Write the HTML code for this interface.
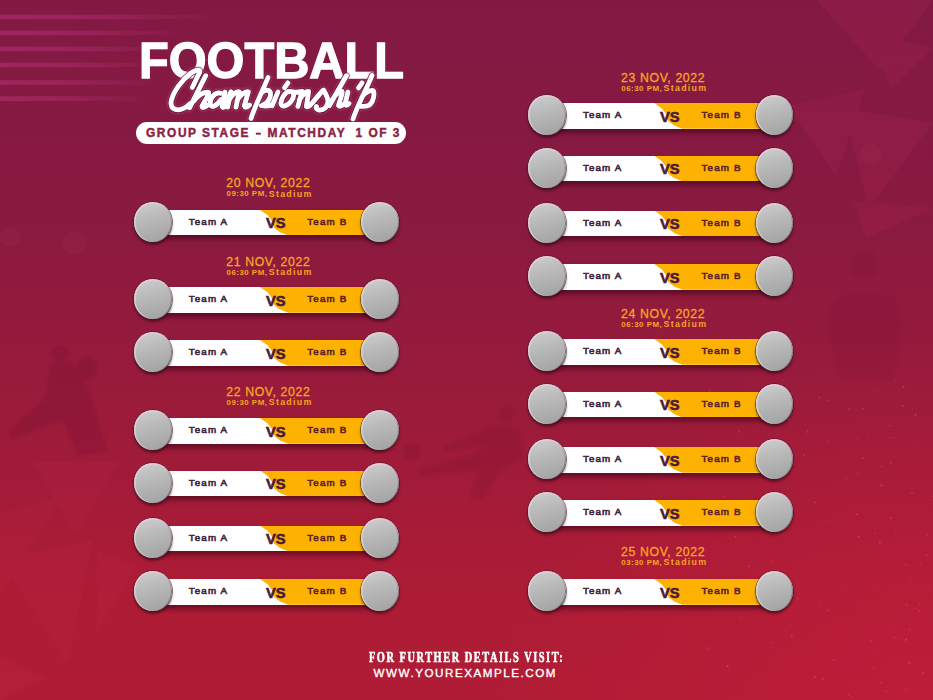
<!DOCTYPE html>
<html><head><meta charset="utf-8">
<style>
*{margin:0;padding:0;box-sizing:border-box}
html,body{width:933px;height:700px;overflow:hidden}
body{position:relative;font-family:"Liberation Sans",sans-serif;
background:linear-gradient(180deg,#821944 0%,#891a40 30%,#9c1b3a 60%,#ad1c35 85%,#b11c35 100%)}
.bg,.scr{position:absolute;left:0;top:0}
.m{position:absolute;width:268px;height:40px}
.m b{position:absolute;font-weight:bold;white-space:nowrap}
.bar{position:absolute;left:20px;top:8.1px;width:227.2px;height:25.6px;background:linear-gradient(90deg,#e6e2e4 0,#fff 9%,#fff 100%);
box-shadow:0 4px 5px rgba(50,0,20,.55)}
.bar i{position:absolute;left:0;top:0;width:100%;height:100%;
background:#fdb100;clip-path:polygon(107px 0,100% 0,100% 100%,135.3px 100%,127px 22.3px,121px 17.8px,118.5px 10.3px,114.5px 5.2px)}
.c{position:absolute;top:0;width:37.5px;height:40px;border-radius:50%;
background:linear-gradient(165deg,#d0d0d0 0%,#bababa 40%,#ababab 75%,#a0a0a0 100%);
box-shadow:inset 0 1.5px 1px rgba(255,200,225,.65),inset 1.5px 0 1px rgba(235,240,240,.5),inset -1px 0 0.6px rgba(60,55,60,.45),0 0 0 .8px rgba(60,35,45,.7),0 2.5px 3px rgba(40,0,15,.6)}
.c1{left:1.25px} .c2{left:228.45px}
.ta,.tb{font-size:9.8px;line-height:9.8px;letter-spacing:1.15px;font-weight:normal!important}
.ta{color:#40243a;-webkit-text-stroke:0.6px #40243a} .tb{color:#5e2229;-webkit-text-stroke:0.6px #5e2229}
.ta{left:55.7px} .tb{left:174.3px}
.vs{left:132.9px;font-size:14.7px;line-height:14.7px;color:#4a1a3c;-webkit-text-stroke:0.6px #4a1a3c}
.d1,.d2,.d3{position:absolute;color:#f6a523;white-space:nowrap}
.d1{font-size:12.3px;line-height:12.3px;letter-spacing:0.62px;-webkit-text-stroke:0.3px #f6a523}
.d2{font-size:7.9px;line-height:7.9px;font-weight:bold;letter-spacing:0.5px}
.d3{font-size:8.9px;line-height:8.9px;font-weight:bold;letter-spacing:1.25px}
.tm{font-size:7.5px}
.title{position:absolute;left:139px;top:35.51px;font-size:50.5px;line-height:50.5px;font-weight:bold;color:#fff;-webkit-text-stroke:1.3px #fff;white-space:nowrap;transform-origin:0 0;transform:scaleX(0.964)}
.pill em{font-style:normal;display:inline-block;transform:scaleX(.8)}
.pill{position:absolute;left:136px;top:122px;width:270px;height:21.5px;border-radius:11px;background:#fff}
.pill span{position:absolute;left:10px;top:6.15px;font-size:11.9px;line-height:11.9px;font-weight:bold;color:#8a2246;-webkit-text-stroke:0.45px #8a2246;white-space:nowrap;letter-spacing:1.6px;word-spacing:-0.3px}
.f1{position:absolute;left:368.8px;top:649.80px;font-family:"Liberation Serif",serif;font-weight:bold;font-size:14.8px;line-height:14.8px;color:#fff;-webkit-text-stroke:0.6px #fff;white-space:nowrap;letter-spacing:2.2px;transform-origin:0 0;transform:scaleX(0.7)}
.f2{position:absolute;left:373.6px;top:666.79px;font-size:11.6px;line-height:11.6px;color:#fff;-webkit-text-stroke:0.35px #fff;white-space:nowrap;letter-spacing:1.55px}
</style></head><body>
<svg class="bg" width="933" height="700" viewBox="0 0 933 700">
<defs>
<linearGradient id="sg" x1="0" x2="1" y1="0" y2="0"><stop offset="0" stop-color="#b03070" stop-opacity=".6"/><stop offset=".45" stop-color="#b03070" stop-opacity=".45"/><stop offset="1" stop-color="#b03070" stop-opacity="0"/></linearGradient>
<filter id="sb" x="-5%" y="-100%" width="110%" height="300%"><feGaussianBlur stdDeviation="0.7"/></filter>
<filter id="bl"><feGaussianBlur stdDeviation="1.5"/></filter>
<filter id="bl2"><feGaussianBlur stdDeviation="6"/></filter>
<radialGradient id="br" cx="1" cy="1" r="0.9"><stop offset="0" stop-color="#c81e3c" stop-opacity=".55"/><stop offset="1" stop-color="#c81e3c" stop-opacity="0"/></radialGradient>
</defs>
<rect x="450" y="300" width="483" height="400" fill="url(#br)"/>
<rect x="0" y="14.7" width="230" height="4.6" fill="url(#sg)" filter="url(#sb)"/><rect x="0" y="30.7" width="190" height="4.6" fill="url(#sg)" filter="url(#sb)"/><rect x="0" y="46.7" width="180" height="4.6" fill="url(#sg)" filter="url(#sb)"/><rect x="0" y="62.7" width="175" height="4.6" fill="url(#sg)" filter="url(#sb)"/><rect x="0" y="80.2" width="165" height="4.6" fill="url(#sg)" filter="url(#sb)"/><rect x="0" y="96.3" width="150" height="4.6" fill="url(#sg)" filter="url(#sb)"/><g fill="#ff5a7a"><circle cx="713.5" cy="542.4" r="0.76" opacity="0.17"/><circle cx="920.8" cy="564.7" r="1.09" opacity="0.16"/><circle cx="900.0" cy="472.7" r="0.57" opacity="0.24"/><circle cx="890.2" cy="437.8" r="0.88" opacity="0.26"/><circle cx="827.6" cy="400.1" r="0.62" opacity="0.35"/><circle cx="862.9" cy="458.1" r="0.82" opacity="0.41"/><circle cx="735.4" cy="536.5" r="0.90" opacity="0.38"/><circle cx="833.5" cy="660.2" r="0.92" opacity="0.33"/><circle cx="920.1" cy="531.7" r="0.54" opacity="0.36"/><circle cx="903.0" cy="405.8" r="0.83" opacity="0.42"/><circle cx="890.9" cy="656.5" r="0.75" opacity="0.26"/><circle cx="906.0" cy="686.5" r="0.61" opacity="0.22"/><circle cx="860.9" cy="545.0" r="0.91" opacity="0.17"/><circle cx="909.6" cy="629.6" r="0.98" opacity="0.27"/><circle cx="737.8" cy="488.8" r="0.50" opacity="0.20"/><circle cx="723.6" cy="496.4" r="1.02" opacity="0.33"/><circle cx="931.4" cy="529.1" r="0.55" opacity="0.18"/><circle cx="823.1" cy="426.9" r="0.52" opacity="0.31"/><circle cx="928.0" cy="656.3" r="0.66" opacity="0.26"/><circle cx="881.5" cy="485.5" r="0.99" opacity="0.45"/><circle cx="898.7" cy="637.9" r="0.94" opacity="0.22"/><circle cx="820.6" cy="493.8" r="0.52" opacity="0.23"/><circle cx="922.5" cy="496.7" r="0.64" opacity="0.21"/><circle cx="895.8" cy="533.4" r="0.98" opacity="0.18"/><circle cx="874.8" cy="533.0" r="0.97" opacity="0.25"/><circle cx="886.6" cy="690.9" r="0.74" opacity="0.43"/><circle cx="868.9" cy="434.4" r="0.59" opacity="0.42"/><circle cx="928.4" cy="590.3" r="0.83" opacity="0.19"/><circle cx="822.7" cy="678.8" r="1.02" opacity="0.40"/><circle cx="756.0" cy="567.7" r="0.75" opacity="0.19"/><circle cx="912.0" cy="493.2" r="0.85" opacity="0.42"/><circle cx="823.9" cy="547.5" r="0.76" opacity="0.20"/><circle cx="882.7" cy="414.0" r="0.65" opacity="0.23"/><circle cx="879.9" cy="542.5" r="0.96" opacity="0.42"/><circle cx="819.3" cy="601.7" r="0.82" opacity="0.29"/><circle cx="919.4" cy="603.7" r="1.07" opacity="0.23"/><circle cx="716.9" cy="457.0" r="0.90" opacity="0.39"/><circle cx="909.0" cy="429.4" r="0.90" opacity="0.19"/><circle cx="905.7" cy="689.6" r="1.07" opacity="0.27"/><circle cx="779.0" cy="442.6" r="0.93" opacity="0.16"/><circle cx="829.1" cy="520.9" r="0.70" opacity="0.34"/><circle cx="883.7" cy="690.9" r="0.66" opacity="0.16"/><circle cx="881.5" cy="466.5" r="0.75" opacity="0.42"/><circle cx="890.8" cy="462.8" r="1.05" opacity="0.32"/><circle cx="863.2" cy="408.6" r="0.91" opacity="0.28"/><circle cx="755.6" cy="415.0" r="0.53" opacity="0.21"/><circle cx="767.6" cy="540.0" r="0.71" opacity="0.16"/><circle cx="828.4" cy="440.6" r="1.06" opacity="0.18"/><circle cx="890.8" cy="518.3" r="1.00" opacity="0.27"/><circle cx="848.2" cy="509.5" r="0.53" opacity="0.19"/><circle cx="902.8" cy="594.6" r="0.65" opacity="0.24"/><circle cx="807.1" cy="430.4" r="0.66" opacity="0.44"/><circle cx="926.6" cy="555.1" r="1.08" opacity="0.24"/><circle cx="783.1" cy="380.3" r="0.78" opacity="0.30"/><circle cx="746.8" cy="541.5" r="0.66" opacity="0.18"/><circle cx="793.1" cy="393.3" r="0.68" opacity="0.22"/><circle cx="894.5" cy="637.5" r="0.85" opacity="0.42"/><circle cx="859.1" cy="601.9" r="0.52" opacity="0.19"/><circle cx="858.6" cy="536.6" r="0.98" opacity="0.37"/><circle cx="815.1" cy="502.4" r="0.91" opacity="0.38"/><circle cx="843.8" cy="585.7" r="0.59" opacity="0.23"/><circle cx="873.2" cy="477.4" r="0.51" opacity="0.17"/><circle cx="857.4" cy="473.1" r="0.78" opacity="0.29"/><circle cx="727.6" cy="666.0" r="1.09" opacity="0.43"/><circle cx="925.6" cy="523.8" r="0.63" opacity="0.43"/><circle cx="749.1" cy="566.1" r="0.81" opacity="0.44"/><circle cx="906.6" cy="605.1" r="1.04" opacity="0.30"/><circle cx="805.0" cy="476.6" r="0.71" opacity="0.24"/><circle cx="895.8" cy="380.6" r="1.00" opacity="0.19"/><circle cx="915.9" cy="608.2" r="0.67" opacity="0.26"/><circle cx="784.0" cy="517.0" r="0.53" opacity="0.18"/><circle cx="906.0" cy="639.8" r="1.05" opacity="0.43"/><circle cx="828.0" cy="610.3" r="0.94" opacity="0.29"/><circle cx="875.4" cy="586.2" r="0.53" opacity="0.43"/><circle cx="760.6" cy="589.9" r="0.83" opacity="0.27"/><circle cx="739.0" cy="431.7" r="1.04" opacity="0.30"/><circle cx="804.8" cy="424.7" r="0.55" opacity="0.25"/><circle cx="787.8" cy="488.2" r="0.67" opacity="0.44"/><circle cx="901.0" cy="449.1" r="0.65" opacity="0.27"/><circle cx="903.4" cy="387.0" r="0.93" opacity="0.42"/><circle cx="810.3" cy="567.9" r="0.73" opacity="0.43"/><circle cx="757.9" cy="414.9" r="0.81" opacity="0.35"/><circle cx="919.4" cy="611.0" r="0.96" opacity="0.29"/><circle cx="770.8" cy="420.9" r="0.88" opacity="0.36"/><circle cx="835.8" cy="504.2" r="0.86" opacity="0.15"/><circle cx="850.2" cy="662.8" r="0.64" opacity="0.22"/><circle cx="923.8" cy="605.5" r="0.51" opacity="0.30"/><circle cx="857.1" cy="514.4" r="0.90" opacity="0.43"/><circle cx="798.0" cy="598.4" r="0.98" opacity="0.37"/><circle cx="772.6" cy="642.4" r="0.63" opacity="0.38"/><circle cx="855.0" cy="683.6" r="0.74" opacity="0.21"/><circle cx="927.0" cy="425.4" r="0.54" opacity="0.27"/><circle cx="909.3" cy="662.7" r="1.10" opacity="0.43"/><circle cx="873.9" cy="390.2" r="0.73" opacity="0.26"/><circle cx="777.3" cy="434.2" r="0.67" opacity="0.26"/><circle cx="891.5" cy="518.4" r="0.78" opacity="0.26"/><circle cx="914.2" cy="441.8" r="1.04" opacity="0.16"/><circle cx="709.5" cy="391.2" r="1.05" opacity="0.23"/><circle cx="874.1" cy="667.5" r="0.66" opacity="0.44"/><circle cx="773.7" cy="468.2" r="0.95" opacity="0.42"/><circle cx="847.7" cy="681.8" r="0.64" opacity="0.29"/><circle cx="922.9" cy="685.3" r="0.65" opacity="0.28"/><circle cx="815.0" cy="677.0" r="0.98" opacity="0.37"/><circle cx="891.7" cy="627.3" r="0.70" opacity="0.25"/><circle cx="784.3" cy="630.3" r="0.62" opacity="0.38"/><circle cx="757.6" cy="400.7" r="0.83" opacity="0.25"/><circle cx="761.7" cy="406.9" r="0.80" opacity="0.36"/><circle cx="804.1" cy="454.9" r="0.87" opacity="0.35"/><circle cx="874.3" cy="651.0" r="0.57" opacity="0.40"/><circle cx="872.0" cy="443.7" r="0.65" opacity="0.20"/><circle cx="906.0" cy="565.0" r="0.74" opacity="0.45"/><circle cx="852.2" cy="697.1" r="0.78" opacity="0.40"/><circle cx="895.8" cy="672.6" r="0.68" opacity="0.19"/><circle cx="916.7" cy="499.1" r="0.77" opacity="0.23"/><circle cx="881.2" cy="682.6" r="0.86" opacity="0.34"/><circle cx="750.7" cy="498.0" r="0.62" opacity="0.23"/><circle cx="839.7" cy="588.5" r="0.51" opacity="0.25"/><circle cx="858.0" cy="439.2" r="0.62" opacity="0.39"/><circle cx="827.7" cy="400.2" r="0.74" opacity="0.32"/><circle cx="848.9" cy="409.2" r="0.92" opacity="0.27"/><circle cx="772.8" cy="561.3" r="0.75" opacity="0.41"/><circle cx="932.2" cy="496.4" r="0.94" opacity="0.21"/><circle cx="807.4" cy="432.0" r="0.83" opacity="0.34"/><circle cx="912.0" cy="408.5" r="0.72" opacity="0.30"/><circle cx="915.6" cy="414.8" r="0.98" opacity="0.44"/><circle cx="927.3" cy="534.5" r="1.06" opacity="0.27"/><circle cx="910.7" cy="578.5" r="0.60" opacity="0.39"/><circle cx="893.2" cy="438.5" r="0.74" opacity="0.31"/><circle cx="789.4" cy="419.4" r="0.93" opacity="0.42"/><circle cx="708.9" cy="648.2" r="0.86" opacity="0.32"/><circle cx="846.1" cy="478.0" r="0.85" opacity="0.28"/><circle cx="853.5" cy="523.0" r="0.51" opacity="0.34"/><circle cx="881.7" cy="526.7" r="0.78" opacity="0.18"/><circle cx="729.9" cy="517.8" r="0.77" opacity="0.30"/><circle cx="709.5" cy="583.7" r="0.94" opacity="0.38"/><circle cx="819.2" cy="397.4" r="0.73" opacity="0.44"/><circle cx="870.6" cy="640.8" r="1.09" opacity="0.30"/><circle cx="922.9" cy="673.1" r="0.97" opacity="0.43"/><circle cx="890.0" cy="425.9" r="1.05" opacity="0.21"/><circle cx="761.2" cy="541.9" r="0.52" opacity="0.20"/><circle cx="908.6" cy="434.0" r="0.57" opacity="0.31"/><circle cx="791.9" cy="635.3" r="1.09" opacity="0.32"/><circle cx="741.2" cy="618.0" r="0.99" opacity="0.23"/><circle cx="848.9" cy="694.9" r="0.90" opacity="0.24"/></g>
<g fill="#c8305e" opacity=".13">
<polygon points="817,0 933,0 880,71"/>
<polygon points="871,35 933,48 891,89"/>
<polygon points="787,106 865,89 836,175"/>
<polygon points="843,108 933,123 869,208"/>
<polygon points="854,201 933,208 866,238"/>
</g>
<g fill="#e0406a" opacity=".07">
<polygon points="33,462 119,462 75,535"/>
<polygon points="0,514 63,496 0,596"/>
<polygon points="0,559 93,540 67,663"/>
<polygon points="97,551 137,566 97,633"/>
<polygon points="0,656 45,678 0,700"/>
</g>
<g fill="#ff9ac0" opacity=".03">
<circle cx="10" cy="237" r="10"/><circle cx="75" cy="243" r="12"/><circle cx="871" cy="154" r="11"/>
</g>
<g fill="#4a0620" opacity=".12" filter="url(#bl)">
<circle cx="60" cy="354" r="9"/><circle cx="87" cy="368" r="11"/>
<path d="M50,365 L72,362 L90,390 L108,452 L78,455 L62,420 L12,440 L8,432 L45,398 Z"/>
</g>
<g fill="#4a0620" opacity=".09" filter="url(#bl)">
<circle cx="506" cy="414" r="8"/><circle cx="411" cy="452" r="9"/>
<path d="M490,426 L520,428 L524,460 L500,470 L483,500 L470,498 L478,470 L420,476 L418,470 L470,455 L488,445 L445,452 L443,447 Z"/>
</g>
<g fill="#4a0620" opacity=".05" filter="url(#bl)">
<circle cx="864" cy="265" r="15"/>
<path d="M838,298 C850,292 880,292 894,298 C904,310 906,335 900,345 L893,380 L840,380 L832,345 C824,335 826,310 838,298 Z"/>
</g>
</svg>
<div class="title">FOOTBALL</div>
<svg class="scr" width="933" height="140" viewBox="0 0 933 140">
<defs><filter id="gl" x="-20%" y="-50%" width="140%" height="200%"><feGaussianBlur stdDeviation="1.3"/></filter></defs>
<path d="M192.3,87.5 L199.8,72 C200.5,69 196,69.5 191,73 C182,80 173.5,91 171.2,101 C170,108 175,111.5 182,109 C186,107.5 189,105 191,103 M205.7,75.7 L189.5,107.8 M194,101 C198,95 204,91.5 208.5,92.3 C210,93.8 203.5,103 202,106.3 C202.5,108.2 205,107.3 207.5,105.3 M220.5,93.2 C215,91.5 209,99 210.5,104.5 C211.5,108 216,106.5 221,99.5 M225,92.1 L222.1,106.8 C223,108.2 225,107 227,104.5 M226.8,104.5 C228,99 229.5,95 230.9,91.8 L227.7,107 M228.5,101 C231.5,95 236,91 239.2,91.8 L236,107 M237,101 C240,95 245,91 248.3,91.8 L244.3,106 C245,108 247,107.5 249.5,105 M268,77.5 C264,88 256,103 251,118.5 M261,93.5 C263.5,90.5 268,89 270,91.5 C271.5,95 269.5,103 261.4,105.7 C265,106.5 269,106 272,104.5 M277.9,92.1 L272.1,105.7 M287.9,82.9 L284.6,87.7 M290,91.4 C285,91 280.5,100 281,104 C281.5,107.5 287,106.5 291,101.5 C294.5,97 295,92 290,91.4 C293,92.5 296.5,92.8 302.1,91.4 M302.1,91.4 L297.9,106.4 M299.3,100 C302,95 306,91.5 308.6,91.5 L306.4,106.4 C307.5,107.5 309.5,106 311,104.3 M311,104.3 C315,100 320,93 323.6,90 C325,93 328.5,98 327.9,102 C327.5,107 324,110.5 319,110 C316.5,109.5 315.5,108 316.5,106.5 M346.4,75.7 L329.3,105.7 M332.1,100 C335,95.5 339,91.5 342.1,91.4 C343.5,93 338.5,102.5 338.6,105.7 C339.5,107 342,105.5 343.6,104.3 M347.9,92.1 L345,104.3 C345.5,106 347.5,105 349,103.5 M362,82.9 L358.6,87.9 M372,75.5 C368,86 358,104 353,119 M362,97 C365,92.5 370,90 373.3,90.7 C375,94 373,103 369,105.3 C366,106.5 362,106.5 359.6,106.1" fill="none" stroke="#ff80b0" stroke-opacity=".4" stroke-width="7.2" stroke-linecap="round" stroke-linejoin="round" filter="url(#gl)"/>
<path d="M192.3,87.5 L199.8,72 C200.5,69 196,69.5 191,73 C182,80 173.5,91 171.2,101 C170,108 175,111.5 182,109 C186,107.5 189,105 191,103 M205.7,75.7 L189.5,107.8 M194,101 C198,95 204,91.5 208.5,92.3 C210,93.8 203.5,103 202,106.3 C202.5,108.2 205,107.3 207.5,105.3 M220.5,93.2 C215,91.5 209,99 210.5,104.5 C211.5,108 216,106.5 221,99.5 M225,92.1 L222.1,106.8 C223,108.2 225,107 227,104.5 M226.8,104.5 C228,99 229.5,95 230.9,91.8 L227.7,107 M228.5,101 C231.5,95 236,91 239.2,91.8 L236,107 M237,101 C240,95 245,91 248.3,91.8 L244.3,106 C245,108 247,107.5 249.5,105 M268,77.5 C264,88 256,103 251,118.5 M261,93.5 C263.5,90.5 268,89 270,91.5 C271.5,95 269.5,103 261.4,105.7 C265,106.5 269,106 272,104.5 M277.9,92.1 L272.1,105.7 M287.9,82.9 L284.6,87.7 M290,91.4 C285,91 280.5,100 281,104 C281.5,107.5 287,106.5 291,101.5 C294.5,97 295,92 290,91.4 C293,92.5 296.5,92.8 302.1,91.4 M302.1,91.4 L297.9,106.4 M299.3,100 C302,95 306,91.5 308.6,91.5 L306.4,106.4 C307.5,107.5 309.5,106 311,104.3 M311,104.3 C315,100 320,93 323.6,90 C325,93 328.5,98 327.9,102 C327.5,107 324,110.5 319,110 C316.5,109.5 315.5,108 316.5,106.5 M346.4,75.7 L329.3,105.7 M332.1,100 C335,95.5 339,91.5 342.1,91.4 C343.5,93 338.5,102.5 338.6,105.7 C339.5,107 342,105.5 343.6,104.3 M347.9,92.1 L345,104.3 C345.5,106 347.5,105 349,103.5 M362,82.9 L358.6,87.9 M372,75.5 C368,86 358,104 353,119 M362,97 C365,92.5 370,90 373.3,90.7 C375,94 373,103 369,105.3 C366,106.5 362,106.5 359.6,106.1" fill="none" stroke="#4e0c28" stroke-opacity=".8" stroke-width="6.4" stroke-linecap="round" stroke-linejoin="round"/>
<path d="M192.3,87.5 L199.8,72 C200.5,69 196,69.5 191,73 C182,80 173.5,91 171.2,101 C170,108 175,111.5 182,109 C186,107.5 189,105 191,103 M205.7,75.7 L189.5,107.8 M194,101 C198,95 204,91.5 208.5,92.3 C210,93.8 203.5,103 202,106.3 C202.5,108.2 205,107.3 207.5,105.3 M220.5,93.2 C215,91.5 209,99 210.5,104.5 C211.5,108 216,106.5 221,99.5 M225,92.1 L222.1,106.8 C223,108.2 225,107 227,104.5 M226.8,104.5 C228,99 229.5,95 230.9,91.8 L227.7,107 M228.5,101 C231.5,95 236,91 239.2,91.8 L236,107 M237,101 C240,95 245,91 248.3,91.8 L244.3,106 C245,108 247,107.5 249.5,105 M268,77.5 C264,88 256,103 251,118.5 M261,93.5 C263.5,90.5 268,89 270,91.5 C271.5,95 269.5,103 261.4,105.7 C265,106.5 269,106 272,104.5 M277.9,92.1 L272.1,105.7 M287.9,82.9 L284.6,87.7 M290,91.4 C285,91 280.5,100 281,104 C281.5,107.5 287,106.5 291,101.5 C294.5,97 295,92 290,91.4 C293,92.5 296.5,92.8 302.1,91.4 M302.1,91.4 L297.9,106.4 M299.3,100 C302,95 306,91.5 308.6,91.5 L306.4,106.4 C307.5,107.5 309.5,106 311,104.3 M311,104.3 C315,100 320,93 323.6,90 C325,93 328.5,98 327.9,102 C327.5,107 324,110.5 319,110 C316.5,109.5 315.5,108 316.5,106.5 M346.4,75.7 L329.3,105.7 M332.1,100 C335,95.5 339,91.5 342.1,91.4 C343.5,93 338.5,102.5 338.6,105.7 C339.5,107 342,105.5 343.6,104.3 M347.9,92.1 L345,104.3 C345.5,106 347.5,105 349,103.5 M362,82.9 L358.6,87.9 M372,75.5 C368,86 358,104 353,119 M362,97 C365,92.5 370,90 373.3,90.7 C375,94 373,103 369,105.3 C366,106.5 362,106.5 359.6,106.1" fill="none" stroke="#fff" stroke-width="4.9" stroke-linecap="round" stroke-linejoin="round"/>
</svg>
<div class="pill"><span>GROUP STAGE <em>–</em> MATCHDAY&nbsp; 1 OF 3</span></div>
<div class="d1" style="left:226.2px;top:176.99px">20 NOV, 2022</div><div class="d2" style="left:226.5px;top:189.97px">09:30 PM,</div><div class="d3" style="left:268.8px;top:189.54px">Stadium</div>
<div class="d1" style="left:226.2px;top:255.59px">21 NOV, 2022</div><div class="d2" style="left:226.5px;top:268.57px">06:30 PM,</div><div class="d3" style="left:268.8px;top:268.14px">Stadium</div>
<div class="d1" style="left:226.2px;top:385.59px">22 NOV, 2022</div><div class="d2" style="left:226.5px;top:398.57px">09:30 PM,</div><div class="d3" style="left:268.8px;top:398.14px">Stadium</div>
<div class="d1" style="left:621.0px;top:71.59px">23 NOV, 2022</div><div class="d2" style="left:621.3px;top:84.57px">06:30 PM,</div><div class="d3" style="left:663.6px;top:84.14px">Stadium</div>
<div class="d1" style="left:621.0px;top:307.59px">24 NOV, 2022</div><div class="d2" style="left:621.3px;top:320.57px">06:30 PM,</div><div class="d3" style="left:663.6px;top:320.14px">Stadium</div>
<div class="d1" style="left:621.0px;top:545.79px">25 NOV, 2022</div><div class="d2" style="left:621.3px;top:558.77px">03:30 PM,</div><div class="d3" style="left:663.6px;top:558.34px">Stadium</div>

<div class="m" style="left:133.00px;top:201.80px"><div class="bar"><i></i></div><b class="ta" style="top:15.32px">Team A</b><b class="vs" style="top:14.58px">VS</b><b class="tb" style="top:15.32px">Team B</b><s class="c c1"></s><s class="c c2"></s></div>
<div class="m" style="left:133.00px;top:279.00px"><div class="bar"><i></i></div><b class="ta" style="top:15.32px">Team A</b><b class="vs" style="top:14.58px">VS</b><b class="tb" style="top:15.32px">Team B</b><s class="c c1"></s><s class="c c2"></s></div>
<div class="m" style="left:133.00px;top:332.00px"><div class="bar"><i></i></div><b class="ta" style="top:15.32px">Team A</b><b class="vs" style="top:14.58px">VS</b><b class="tb" style="top:15.32px">Team B</b><s class="c c1"></s><s class="c c2"></s></div>
<div class="m" style="left:133.00px;top:410.00px"><div class="bar"><i></i></div><b class="ta" style="top:15.32px">Team A</b><b class="vs" style="top:14.58px">VS</b><b class="tb" style="top:15.32px">Team B</b><s class="c c1"></s><s class="c c2"></s></div>
<div class="m" style="left:133.00px;top:462.50px"><div class="bar"><i></i></div><b class="ta" style="top:15.32px">Team A</b><b class="vs" style="top:14.58px">VS</b><b class="tb" style="top:15.32px">Team B</b><s class="c c1"></s><s class="c c2"></s></div>
<div class="m" style="left:133.00px;top:517.50px"><div class="bar"><i></i></div><b class="ta" style="top:15.32px">Team A</b><b class="vs" style="top:14.58px">VS</b><b class="tb" style="top:15.32px">Team B</b><s class="c c1"></s><s class="c c2"></s></div>
<div class="m" style="left:133.00px;top:571.00px"><div class="bar"><i></i></div><b class="ta" style="top:15.32px">Team A</b><b class="vs" style="top:14.58px">VS</b><b class="tb" style="top:15.32px">Team B</b><s class="c c1"></s><s class="c c2"></s></div>
<div class="m" style="left:527.20px;top:95.00px"><div class="bar"><i></i></div><b class="ta" style="top:15.32px">Team A</b><b class="vs" style="top:14.58px">VS</b><b class="tb" style="top:15.32px">Team B</b><s class="c c1"></s><s class="c c2"></s></div>
<div class="m" style="left:527.20px;top:147.60px"><div class="bar"><i></i></div><b class="ta" style="top:15.32px">Team A</b><b class="vs" style="top:14.58px">VS</b><b class="tb" style="top:15.32px">Team B</b><s class="c c1"></s><s class="c c2"></s></div>
<div class="m" style="left:527.20px;top:202.50px"><div class="bar"><i></i></div><b class="ta" style="top:15.32px">Team A</b><b class="vs" style="top:14.58px">VS</b><b class="tb" style="top:15.32px">Team B</b><s class="c c1"></s><s class="c c2"></s></div>
<div class="m" style="left:527.20px;top:256.00px"><div class="bar"><i></i></div><b class="ta" style="top:15.32px">Team A</b><b class="vs" style="top:14.58px">VS</b><b class="tb" style="top:15.32px">Team B</b><s class="c c1"></s><s class="c c2"></s></div>
<div class="m" style="left:527.20px;top:331.00px"><div class="bar"><i></i></div><b class="ta" style="top:15.32px">Team A</b><b class="vs" style="top:14.58px">VS</b><b class="tb" style="top:15.32px">Team B</b><s class="c c1"></s><s class="c c2"></s></div>
<div class="m" style="left:527.20px;top:383.70px"><div class="bar"><i></i></div><b class="ta" style="top:15.32px">Team A</b><b class="vs" style="top:14.58px">VS</b><b class="tb" style="top:15.32px">Team B</b><s class="c c1"></s><s class="c c2"></s></div>
<div class="m" style="left:527.20px;top:439.00px"><div class="bar"><i></i></div><b class="ta" style="top:15.32px">Team A</b><b class="vs" style="top:14.58px">VS</b><b class="tb" style="top:15.32px">Team B</b><s class="c c1"></s><s class="c c2"></s></div>
<div class="m" style="left:527.20px;top:492.00px"><div class="bar"><i></i></div><b class="ta" style="top:15.32px">Team A</b><b class="vs" style="top:14.58px">VS</b><b class="tb" style="top:15.32px">Team B</b><s class="c c1"></s><s class="c c2"></s></div>
<div class="m" style="left:527.20px;top:571.00px"><div class="bar"><i></i></div><b class="ta" style="top:15.32px">Team A</b><b class="vs" style="top:14.58px">VS</b><b class="tb" style="top:15.32px">Team B</b><s class="c c1"></s><s class="c c2"></s></div>

<div class="f1">FOR FURTHER DETAILS VISIT:</div>
<div class="f2">WWW.YOUREXAMPLE.COM</div>
</body></html>
